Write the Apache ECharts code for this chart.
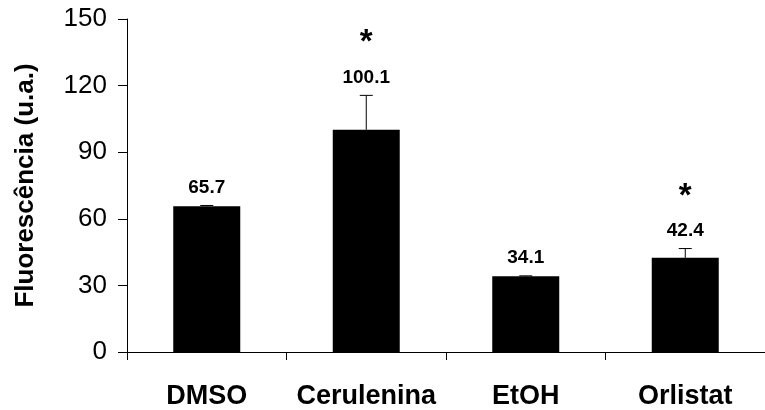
<!DOCTYPE html>
<html>
<head>
<meta charset="utf-8">
<script src="https://cdn.jsdelivr.net/npm/echarts@6/dist/echarts.min.js"></script>
<style>
html,body{margin:0;padding:0;background:#fff;}
#chart{width:765px;height:410px;}
</style>
</head>
<body>
<div id="chart"></div>
<script>
var categories = ['DMSO', 'Cerulenina', 'EtOH', 'Orlistat'];
var values = [65.7, 100.1, 34.1, 42.4];
var errors = [0.3, 15.5, 0.2, 4.2];
var significant = [false, true, false, true];
var yTicks = [0, 30, 60, 90, 120, 150];

var FONT = '"Liberation Sans", Arial, Helvetica, sans-serif';

var errData = categories.map(function (c, i) {
  return [i, values[i], errors[i], significant[i] ? 1 : 0];
});

var chart = echarts.init(document.getElementById('chart'), null, {renderer: 'canvas'});
chart.setOption({
  animation: false,
  backgroundColor: '#fff',
  grid: {left: 127, right: -10, top: 19, bottom: 56, containLabel: false},
  xAxis: {
    type: 'category',
    data: categories,
    axisLine: {lineStyle: {color: '#000', width: 1}},
    axisTick: {show: true, length: 8, lineStyle: {color: '#000'}},
    axisLabel: {interval: 0, color: '#000', fontFamily: FONT, fontWeight: 'bold', fontSize: 27, margin: 31}
  },
  yAxis: {
    type: 'value',
    min: yTicks[0],
    max: yTicks[yTicks.length - 1],
    interval: yTicks[1] - yTicks[0],
    name: 'Fluorescência (u.a.)',
    nameLocation: 'middle',
    nameGap: 88,
    nameTextStyle: {color: '#000', fontFamily: FONT, fontWeight: 'bold', fontSize: 26},
    axisLine: {show: true, lineStyle: {color: '#000', width: 1}},
    axisTick: {show: true, length: 9, lineStyle: {color: '#000'}},
    splitLine: {show: false},
    axisLabel: {color: '#000', fontFamily: FONT, fontSize: 26, margin: 20}
  },
  series: [
    {
      type: 'bar',
      data: values,
      barWidth: 67,
      itemStyle: {color: '#000'}
    },
    {
      type: 'custom',
      data: errData,
      encode: {x: 0, y: 1},
      z: 5,
      renderItem: function (params, api) {
        var i = api.value(0);
        var v = api.value(1);
        var e = api.value(2);
        var sig = api.value(3);
        var base = api.coord([i, v]);
        var top = api.coord([i, v + e]);
        var cap = 6.5;
        var children = [
          {type: 'line', shape: {x1: top[0], y1: base[1], x2: top[0], y2: top[1]}, style: {stroke: '#000', lineWidth: 1}},
          {type: 'line', shape: {x1: top[0] - cap, y1: top[1], x2: top[0] + cap, y2: top[1]}, style: {stroke: '#000', lineWidth: 1}},
          {type: 'text', style: {text: v.toFixed(1), x: top[0], y: top[1] - 18, align: 'center', verticalAlign: 'middle', font: 'bold 19px ' + FONT, fill: '#000'}}
        ];
        if (sig) {
          children.push({type: 'text', style: {text: '*', x: top[0], y: top[1] - 52, align: 'center', verticalAlign: 'middle', font: 'bold 33px ' + FONT, fill: '#000'}});
        }
        return {type: 'group', children: children};
      }
    }
  ]
});
</script>
</body>
</html>
